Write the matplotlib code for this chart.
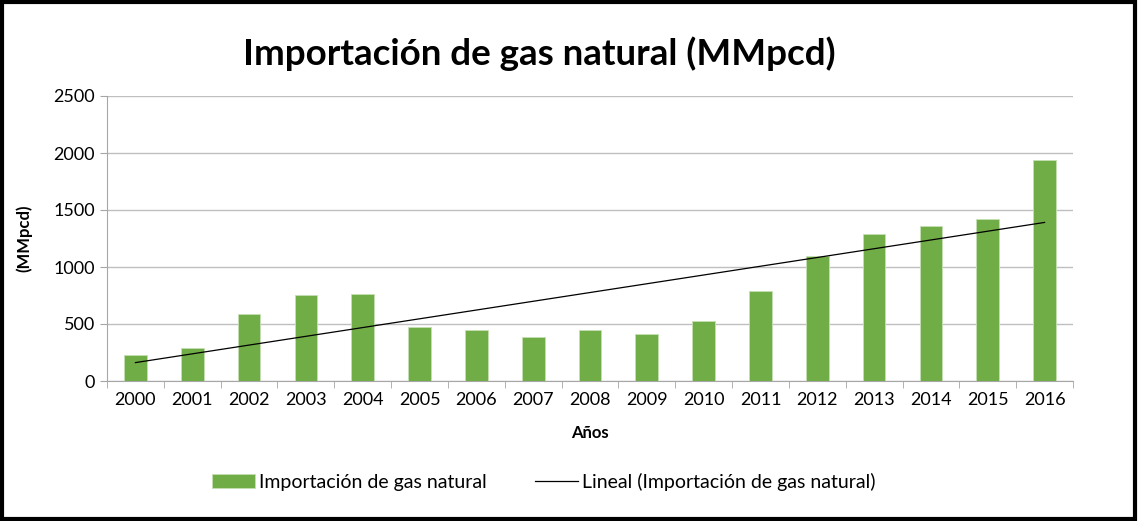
import numpy as np
import matplotlib.pyplot as plt
from matplotlib.patches import Rectangle

# Datos (MMpcd)
anios = ['2000', '2001', '2002', '2003', '2004', '2005', '2006', '2007', '2008',
         '2009', '2010', '2011', '2012', '2013', '2014', '2015', '2016']
importacion = [230, 287, 590, 751, 760, 473, 444, 386, 444,
               415, 529, 789, 1093, 1289, 1359, 1420, 1935]

plt.rcParams['font.family'] = ['Lato', 'DejaVu Sans']

fig = plt.figure(figsize=(11.38, 5.21), dpi=100)
ax = fig.add_axes([107 / 1138, 1 - 381 / 521, 966 / 1138, 285 / 521])

x = np.arange(len(anios))
barras = ax.bar(x, importacion, width=0.4, color='#70AD47', edgecolor='#c5e0b4',
                linewidth=0.6, label='Importación de gas natural', zorder=3)

# Línea de tendencia lineal
m, b = np.polyfit(x, importacion, 1)
linea, = ax.plot(x, m * x + b, color='black', linewidth=0.9,
                 label='Lineal (Importación de gas natural)', zorder=4)

ax.set_xlim(-0.5, len(anios) - 0.5)
ax.set_ylim(0, 2500)
ax.set_yticks(range(0, 2501, 500))
ax.set_xticks(x)
ax.set_xticklabels(anios, fontsize=13)
ax.set_xticks(np.arange(-0.5, len(anios), 1), minor=True)
ax.tick_params(axis='x', which='major', length=0, pad=8)
ax.tick_params(axis='x', which='minor', length=5, color='#a6a6a6')
ax.tick_params(axis='y', length=5, color='#a6a6a6', labelsize=13)
ax.grid(axis='y', color='#bfbfbf', linewidth=1, zorder=0)
for s in ['top', 'right']:
    ax.spines[s].set_visible(False)
for s in ['left', 'bottom']:
    ax.spines[s].set_color('#a6a6a6')

ax.set_xlabel('Años', fontsize=12, fontweight='bold', labelpad=12)
ax.set_ylabel('(MMpcd)', fontsize=12, fontweight='bold', labelpad=15)
fig.text(0.474, 0.897, 'Importación de gas natural (MMpcd)', ha='center',
         va='center', fontsize=26.5, fontweight='bold')

fig.legend(handles=[barras, linea], loc='center', bbox_to_anchor=(0.478, 0.075),
           ncol=2, frameon=False, fontsize=14, handlelength=2.2,
           columnspacing=2.5, handletextpad=0.2)

fig.patches.append(Rectangle((0.002, 0.004), 0.995, 0.992, transform=fig.transFigure,
                             fill=False, edgecolor='black', linewidth=3))

fig.savefig('out.png', dpi=100)
